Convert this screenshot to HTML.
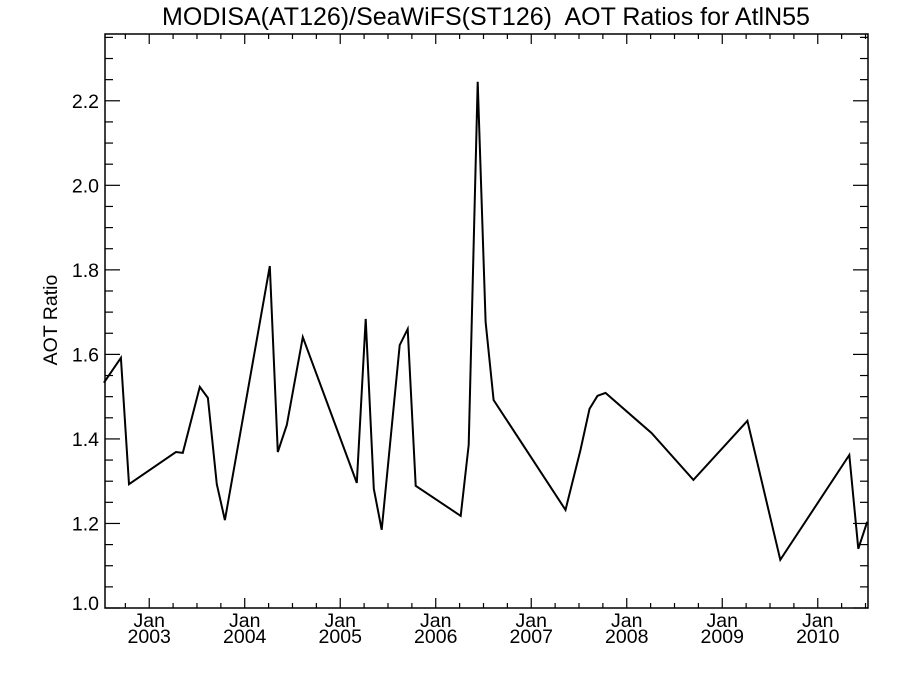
<!DOCTYPE html>
<html><head><meta charset="utf-8"><style>
body{margin:0;background:#fff}
svg text{font-family:"Liberation Sans",sans-serif;fill:#000}
</style></head><body>
<svg width="900" height="675" id="chart">
<text x="486" y="25" font-size="25" text-anchor="middle" style="white-space:pre" xml:space="preserve">MODISA(AT126)/SeaWiFS(ST126)  AOT Ratios for AtlN55</text>
<text transform="translate(57,320) rotate(-90)" font-size="19.5" text-anchor="middle">AOT Ratio</text>
</svg>
<script>
const years = [2002.526,2002.704,2002.788,2003.279,2003.352,2003.530,2003.614,2003.708,2003.792,2004.263,2004.346,2004.441,2004.608,2005.173,2005.267,2005.351,2005.434,2005.623,2005.706,2005.790,2006.261,2006.345,2006.439,2006.522,2006.606,2007.359,2007.516,2007.610,2007.694,2007.778,2008.259,2008.698,2009.263,2009.608,2010.330,2010.424,2010.518];
const ratios = [1.533,1.592,1.293,1.369,1.367,1.523,1.497,1.293,1.208,1.809,1.369,1.433,1.641,1.296,1.684,1.282,1.185,1.622,1.660,1.289,1.218,1.386,2.245,1.677,1.492,1.232,1.374,1.471,1.502,1.509,1.414,1.303,1.443,1.114,1.362,1.140,1.204];
const yTicks = [1.0,1.2,1.4,1.6,1.8,2.0,2.2];
const yTickLabels = ["1.0","1.2","1.4","1.6","1.8","2.0","2.2"];
const xTickYears = [2003,2004,2005,2006,2007,2008,2009,2010];

const L=105,R=868,T=34,B=608;
const X0=2002.537,X1=2010.526,Y0=1.0,Y1=2.358;
const xs=v=>L+(v-X0)/(X1-X0)*(R-L);
const ys=v=>B-(v-Y0)/(Y1-Y0)*(B-T);
const svg=document.getElementById('chart');
const NS='http://www.w3.org/2000/svg';
function mk(tag,attrs){const e=document.createElementNS(NS,tag);for(const k in attrs)e.setAttribute(k,attrs[k]);svg.appendChild(e);return e;}

const frame=mk('rect',{x:L,y:T,width:R-L,height:B-T,fill:'none',stroke:'#000','stroke-width':1.5});



for(let v=1.0;v<=Y1+1e-9;v+=0.05){
  const major=Math.abs(v*5-Math.round(v*5))<1e-6;
  const len=major?15:8;const y=ys(v);
  const t1=mk('line',{x1:L,x2:L+len,y1:y,y2:y,stroke:'#000','stroke-width':1.2});
  
  
  const t2=mk('line',{x1:R,x2:R-len,y1:y,y2:y,stroke:'#000','stroke-width':1.2});
  
  
}
yTicks.forEach((v,i)=>{
  const y=i===0?ys(v)-5:ys(v);
  const t=mk('text',{x:L-6,y:y+7,'font-size':19.5,'text-anchor':'end'});
  t.textContent=yTickLabels[i];
  
  
});
for(let q=2002.5;q<=X1;q+=0.25){
  if(q<X0)continue;
  const major=Math.abs(q-Math.round(q))<1e-6;
  const len=major?10:5;const x=xs(q);
  const a=mk('line',{x1:x,x2:x,y1:B,y2:B-len,stroke:'#000','stroke-width':1.2});
  
  
  const b=mk('line',{x1:x,x2:x,y1:T,y2:T+len,stroke:'#000','stroke-width':1.2});
  
  
}
xTickYears.forEach(yr=>{
  const x=xs(yr);
  const t=mk('text',{x:x,y:627,'font-size':19.5,'text-anchor':'middle'});
  t.textContent='Jan';
  
  
  const t2=mk('text',{x:x,y:643,'font-size':19.5,'text-anchor':'middle'});
  t2.textContent=String(yr);
  
  
});
const pts=years.map((v,i)=>xs(v).toFixed(1)+','+ys(ratios[i]).toFixed(1)).join(' ');
const line=mk('polyline',{points:pts,fill:'none',stroke:'#000','stroke-width':2,'stroke-linejoin':'miter'});


</script>
</body></html>
